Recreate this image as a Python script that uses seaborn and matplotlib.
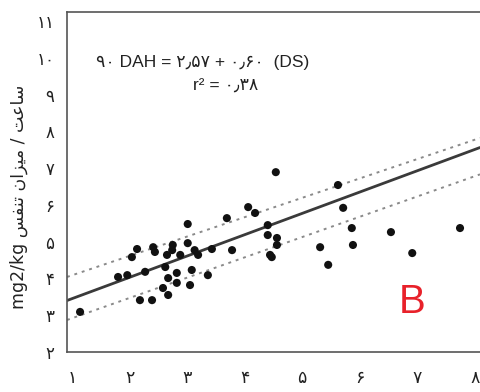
import matplotlib
matplotlib.use("Agg")
import matplotlib.pyplot as plt
import seaborn as sns
import pandas as pd

# ---- data ----
ds_values = [1.14, 1.80, 1.96, 2.04, 2.13, 2.18, 2.27, 2.39, 2.41, 2.44,
             2.58, 2.62, 2.65, 2.67, 2.67, 2.74, 2.75, 2.82, 2.82, 2.88,
             3.01, 3.01, 3.05, 3.08, 3.13, 3.19, 3.36, 3.43, 3.69, 3.78,
             4.06, 4.18, 4.40, 4.40, 4.44, 4.54, 4.56, 4.56, 4.47, 5.31,
             5.45, 5.62, 5.71, 5.86, 5.88, 6.54, 6.91, 7.74]
dah_values = [3.09, 4.04, 4.09, 4.58, 4.80, 3.41, 4.18, 3.41, 4.85, 4.72,
              3.74, 4.31, 4.64, 4.01, 3.55, 4.77, 4.91, 4.15, 3.88, 4.64,
              5.48, 4.96, 3.82, 4.23, 4.77, 4.64, 4.09, 4.80, 5.64, 4.77,
              5.94, 5.78, 5.45, 5.18, 4.64, 6.89, 5.10, 4.91, 4.58, 4.85,
              4.37, 6.54, 5.92, 5.37, 4.91, 5.26, 4.69, 5.37]
fit_x = [0.913, 8.087]
fit_y = [3.40, 7.56]
upper_y = [4.04, 7.82]
lower_y = [2.87, 6.83]
x_ticks = [1, 2, 3, 4, 5, 6, 7, 8]
x_tick_labels = ["۱", "۲", "۳", "۴", "۵", "۶", "۷", "۸"]
y_ticks = [2, 3, 4, 5, 6, 7, 8, 9, 10, 11]
y_tick_labels = ["۲", "۳", "۴", "۵", "۶", "۷", "۸", "۹", "۱۰", "۱۱"]
equation_line1 = "۹۰ DAH = ۲٫۵۷ + ۰٫۶۰  (DS)"
equation_line2 = "r² = ۰٫۳۸"
# y label "ساعت / میزان تنفس mg2/kg" written in visual (shaped) order
y_label = "mg2/kg ﺲﻔﻨﺗ ﻥﺍﺰﯿﻣ / ﺖﻋﺎﺳ"
panel_letter = "B"

sns.set_theme(style="white")
plt.rcParams["font.family"] = ["DejaVu Sans"]

fig = plt.figure(figsize=(4.8, 3.92), dpi=100)
ax = fig.add_axes([67 / 480, 1 - 352 / 392, (480 - 67) / 480, (352 - 12) / 392])

pts = pd.DataFrame({"DS": ds_values, "DAH": dah_values})
fit = pd.DataFrame({"x": fit_x, "fit": fit_y, "upper": upper_y, "lower": lower_y})

sns.lineplot(data=fit, x="x", y="upper", ax=ax, color="#8a8a8a", lw=1.4,
             linestyle=(0, (1.5, 2.5)))
sns.lineplot(data=fit, x="x", y="lower", ax=ax, color="#8a8a8a", lw=1.4,
             linestyle=(0, (1.5, 2.5)))
sns.lineplot(data=fit, x="x", y="fit", ax=ax, color="#3a3a3a", lw=2.0)
sns.scatterplot(data=pts, x="DS", y="DAH", ax=ax, color="#111111", s=34,
                edgecolor="none", zorder=5)

ax.set_xlim(0.913, 8.087)
ax.set_ylim(2, 11.245)
ax.set_xticks(x_ticks)
ax.set_xticklabels(x_tick_labels, fontsize=12.5)
ax.set_yticks(y_ticks)
ax.set_yticklabels(y_tick_labels, fontsize=12)
ax.tick_params(axis="x", length=0, pad=12, colors="#222222")
ax.tick_params(axis="y", length=0, pad=9, colors="#222222")
ax.set_xlabel("")
ax.set_ylabel(y_label, fontsize=12.5, color="#222222")
ax.yaxis.set_label_coords(-0.094, 0.455)

for side in ["left", "bottom", "top"]:
    ax.spines[side].set_visible(True)
    ax.spines[side].set_color("#555555")
    ax.spines[side].set_linewidth(1.2)
ax.spines["right"].set_visible(False)

ax.text((203 - 67) / 413, (352 - 63) / 340, equation_line1, transform=ax.transAxes,
        ha="center", va="center", fontsize=12.5, color="#222222",
        family=["Liberation Sans", "DejaVu Sans"])
ax.text((226 - 67) / 413, (352 - 86) / 340, equation_line2, transform=ax.transAxes,
        ha="center", va="center", fontsize=12.5, color="#222222",
        family=["Liberation Sans", "DejaVu Sans"])
ax.text((412 - 67) / 413, (352 - 302) / 340, panel_letter, transform=ax.transAxes,
        ha="center", va="center", fontsize=29, color="#e8212a",
        family=["Liberation Sans", "DejaVu Sans"])

fig.savefig("out.png", dpi=100)
